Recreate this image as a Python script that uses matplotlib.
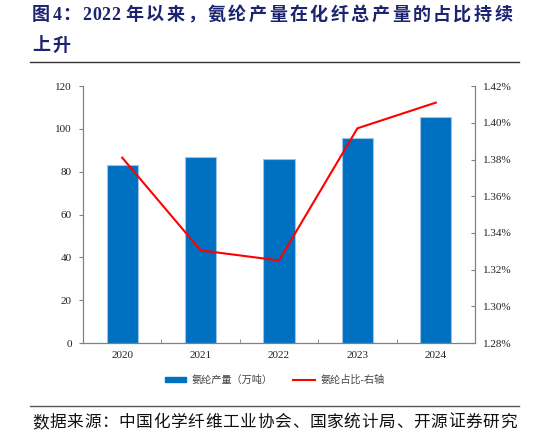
import matplotlib
matplotlib.use("Agg")
import matplotlib.pyplot as plt
from matplotlib.lines import Line2D
from matplotlib.ticker import FuncFormatter

years = ["2020", "2021", "2022", "2023", "2024"]
output_wt = [83.1, 86.7, 85.8, 95.9, 105.4]          # 氨纶产量（万吨）
share_pct = [1.381, 1.3305, 1.325, 1.397, 1.411]     # 氨纶占比（%）

title_l1 = "图4：2022 年以来，氨纶产量在化纤总产量的占比持续"
title_l2 = "上升"
source = "数据来源：中国化学纤维工业协会、国家统计局、开源证券研究"
bar_label = "氨纶产量（万吨）"
line_label = "氨纶占比-右轴"

serif_cjk = ["Liberation Serif", "Noto Sans CJK SC"]
plt.rcParams["font.family"] = serif_cjk

fig = plt.figure(figsize=(5.46, 4.37), dpi=100)
renderer = fig.canvas.get_renderer()


def spaced_text(x_px, y_frac, s, gap_px, **kw):
    # draw text char by char, adding extra letter spacing (in pixels)
    x_cur = x_px
    for ch in s:
        t = fig.text(x_cur / fig.bbox.width, y_frac, ch, va="center", **kw)
        w = t.get_window_extent(renderer).width
        x_cur += w + (gap_px if not ch.isascii() else 0.5)
    return x_cur


ax = fig.add_axes([0.152, 0.215, 0.718, 0.588])
ax2 = ax.twinx()

x = range(len(years))
ax.bar(x, output_wt, width=0.4, color="#0070C0", edgecolor="#9DC3E6", linewidth=0.8, zorder=2)
ax2.plot(x, share_pct, color="#FF0000", linewidth=1.5, zorder=3)

ax.set_xlim(-0.5, len(years) - 0.5)
ax.set_ylim(0, 120)
ax.set_yticks(range(0, 121, 20))
ax2.set_ylim(1.28, 1.42)
ax2.set_yticks([1.28 + 0.02 * i for i in range(8)])
ax2.yaxis.set_major_formatter(FuncFormatter(lambda v, p: f"{v:.2f}%"))

ax.set_xticks(list(x))
ax.set_xticklabels(years)
ax.set_xticks([i + 0.5 for i in range(len(years) - 1)], minor=True)
ax.tick_params(axis="x", which="major", length=0, pad=6)
ax.tick_params(axis="x", which="minor", direction="in", length=3, color="#808080")
ax.tick_params(axis="y", direction="out", length=3, color="#808080", pad=5)
ax2.tick_params(axis="y", direction="in", length=3, color="#808080", pad=6)

for a in (ax, ax2):
    a.tick_params(labelsize=8, labelcolor="#222222")
    a.spines["top"].set_visible(False)
    for s in ("left", "right", "bottom"):
        a.spines[s].set_color("#808080")
        a.spines[s].set_linewidth(0.8)
ax.patch.set_visible(False)
ax2.patch.set_visible(False)
ax.set_zorder(1)
ax2.set_zorder(2)

# title
title_kw = dict(fontsize=13, fontweight="bold", color="#1C2470")
spaced_text(32, 0.965, title_l1, 2.5, **title_kw)
spaced_text(32, 0.895, title_l2, 2.5, **title_kw)
fig.add_artist(Line2D([0.055, 0.95], [0.858, 0.858], color="#333333", linewidth=1.0))

# legend
handles = [plt.Rectangle((0, 0), 1, 1, color="#0070C0"),
           Line2D([0], [0], color="#FF0000", linewidth=1.5)]
fig.legend(handles, [bar_label, line_label], loc="center", bbox_to_anchor=(0.503, 0.13),
           ncol=2, frameon=False, handlelength=2.1, handleheight=0.45, handletextpad=0.6,
           columnspacing=2.0, labelcolor="#444444", prop={"family": serif_cjk, "size": 7.3})

fig.add_artist(Line2D([0.055, 0.95], [0.071, 0.071], color="#555555", linewidth=1.0))
spaced_text(32, 0.032, source, 0.7, fontsize=12, color="#111111")

fig.savefig("out.png", dpi=100)
